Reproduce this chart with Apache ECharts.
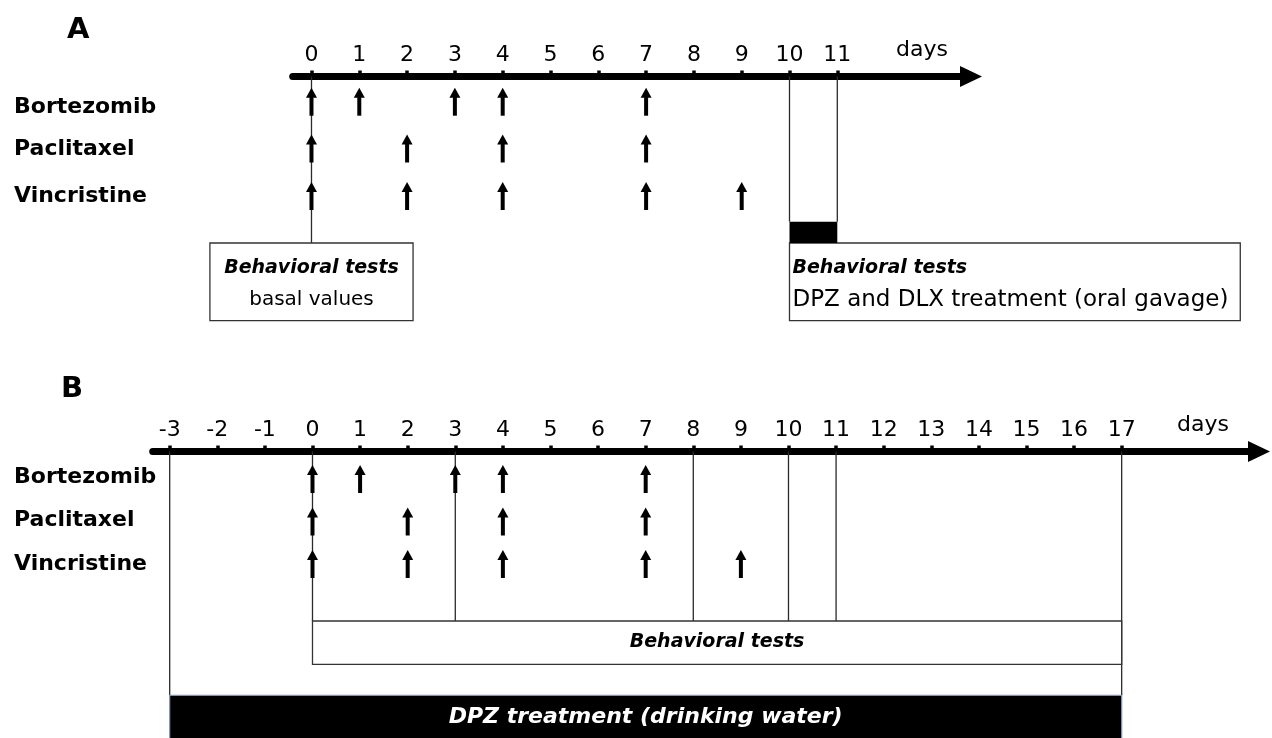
<!DOCTYPE html>
<html>
<head>
<meta charset="utf-8">
<script src="https://cdn.jsdelivr.net/npm/echarts@6/dist/echarts.min.js"></script>
<style>html,body{margin:0;padding:0;background:#fff}#c{width:1272px;height:738px}</style>
</head>
<body>
<div id="c"></div>
<script>
// ---------------- data ----------------
const drugs = ['Bortezomib', 'Paclitaxel', 'Vincristine'];
const axisName = 'days';
// Panel A: injection days per drug
const bortezomibDaysA = [0, 1, 3, 4, 7];
const paclitaxelDaysA = [0, 2, 4, 7];
const vincristineDaysA = [0, 2, 4, 7, 9];
const tickLabelsA = [0, 1, 2, 3, 4, 5, 6, 7, 8, 9, 10, 11];
const basalTestDayA = 0;
const treatmentWindowA = [10, 11];
// Panel B
const bortezomibDaysB = [0, 1, 3, 4, 7];
const paclitaxelDaysB = [0, 2, 4, 7];
const vincristineDaysB = [0, 2, 4, 7, 9];
const tickLabelsB = [-3, -2, -1, 0, 1, 2, 3, 4, 5, 6, 7, 8, 9, 10, 11, 12, 13, 14, 15, 16, 17];
const testDaysB = [0, 3, 8, 10, 11];
const testPeriodB = [0, 17];
const dpzPeriodB = [-3, 17];

// ---------------- layout (pixels below each time axis) ----------------
const FONT = '"DejaVu Sans"';
const LA = { top: 76.5, height: 250, left: 292.7, width: 678.3, xMin: -0.393, xMax: 13.797,
  arrowY: [25.2, 72, 119.5], labelY: [30.5, 72.5, 119.5], nameDx: -49, nameDy: -26.5,
  barTop: 145.2, boxTop: 166.5, boxBottom: 244.2, line1: 191.5, line2: 223.5,
  basalHalfSpan: 2.125, treatSpan: 9.43 };
const LB = { top: 451.5, height: 286.5, left: 152.7, width: 1106.3, xMin: -3.357, xMax: 19.885,
  arrowY: [27.5, 70, 112.5], labelY: [26, 68.5, 112.5], nameDx: -56, nameDy: -26.5,
  boxTop: 169.5, boxBottom: 212.8, boxText: 190.5, dpzTop: 243.8, dpzBottom: 300, dpzText: 265.5 };

function drugPoints(lists) {
  const out = [];
  lists.forEach((days, row) => days.forEach(d => out.push([d, row])));
  return out;
}

function arrowRender(L) {
  return function (params, api) {
    const p = api.coord([api.value(0), L.arrowY[api.value(1)]]);
    const len = 28, hh = 10, hw = 11, sw = 4;
    const top = p[1] - len / 2;
    return { type: 'group', children: [
      { type: 'rect', shape: { x: p[0] - sw / 2, y: top + hh - 1, width: sw, height: len - hh + 1 }, style: { fill: '#000' } },
      { type: 'polygon', shape: { points: [[p[0] - hw / 2, top + hh], [p[0], top], [p[0] + hw / 2, top + hh]] }, style: { fill: '#000' } }
    ] };
  };
}

function labelRender(L) {
  return function (params, api) {
    const p = api.coord([L.xMin, L.labelY[api.value(0)]]);
    return { type: 'text', x: 14, y: p[1],
      style: { text: drugs[api.value(0)], fill: '#000', font: 'bold 22px ' + FONT,
        textAlign: 'left', textVerticalAlign: 'middle', align: 'left', verticalAlign: 'middle' } };
  };
}

function nameRender(L) {
  return function (params, api) {
    const p = api.coord([api.value(0), 0]);
    return txt(p[0] + L.nameDx, p[1] + L.nameDy, axisName, '22px ' + FONT, 'center');
  };
}

function lineRender(params, api) {
  const a = api.coord([api.value(0), 0]);
  const b = api.coord([api.value(0), api.value(1)]);
  return { type: 'line', shape: { x1: a[0], y1: a[1], x2: b[0], y2: b[1] },
    style: { stroke: '#2a2a2a', lineWidth: 1.3 } };
}

function txt(x, y, text, font, align, color) {
  return { type: 'text', x: x, y: y,
    style: { text: text, fill: color || '#000', font: font, textAlign: align, textVerticalAlign: 'middle', align: align, verticalAlign: 'middle' } };
}

function boxRenderA(params, api) {
  const k = api.value(2);
  const p0 = api.coord([api.value(0), LA.boxTop]);
  const p1 = api.coord([api.value(1), LA.boxBottom]);
  const children = [];
  if (k === 0) {
    children.push({ type: 'rect', shape: { x: p0[0], y: p0[1], width: p1[0] - p0[0], height: p1[1] - p0[1] },
      style: { fill: '#fff', stroke: '#333', lineWidth: 1.3 } });
    const cx = (p0[0] + p1[0]) / 2;
    children.push(txt(cx, api.coord([0, LA.line1])[1], 'Behavioral tests', 'italic bold 19px ' + FONT, 'center'));
    children.push(txt(cx, api.coord([0, LA.line2])[1], 'basal values', '20px ' + FONT, 'center'));
  } else if (k === 1) {
    children.push({ type: 'rect', shape: { x: p0[0], y: p0[1], width: p1[0] - p0[0], height: p1[1] - p0[1] },
      style: { fill: '#fff', stroke: '#333', lineWidth: 1.3 } });
    children.push(txt(p0[0] + 3, api.coord([0, LA.line1])[1], 'Behavioral tests', 'italic bold 19px ' + FONT, 'left'));
    children.push(txt(p0[0] + 3, api.coord([0, LA.line2])[1], 'DPZ and DLX treatment (oral gavage)', '23px ' + FONT, 'left'));
  } else {
    const q0 = api.coord([api.value(0), LA.barTop]);
    const q1 = api.coord([api.value(1), LA.boxTop]);
    children.push({ type: 'rect', shape: { x: q0[0], y: q0[1], width: q1[0] - q0[0], height: q1[1] - q0[1] },
      style: { fill: '#000' } });
  }
  return { type: 'group', children: children };
}

function boxRenderB(params, api) {
  const k = api.value(2);
  if (k === 0) {
    const p0 = api.coord([api.value(0), LB.boxTop]);
    const p1 = api.coord([api.value(1), LB.boxBottom]);
    return { type: 'group', children: [
      { type: 'rect', shape: { x: p0[0], y: p0[1], width: p1[0] - p0[0], height: p1[1] - p0[1] },
        style: { fill: '#fff', stroke: '#333', lineWidth: 1.3 } },
      txt((p0[0] + p1[0]) / 2, api.coord([0, LB.boxText])[1], 'Behavioral tests', 'italic bold 19px ' + FONT, 'center')
    ] };
  }
  const p0 = api.coord([api.value(0), LB.dpzTop]);
  const p1 = api.coord([api.value(1), LB.dpzBottom]);
  return { type: 'group', children: [
    { type: 'rect', shape: { x: p0[0], y: p0[1], width: p1[0] - p0[0], height: p1[1] - p0[1] },
      style: { fill: '#000', stroke: '#7f95b3', lineWidth: 1.2 } },
    txt((p0[0] + p1[0]) / 2, api.coord([0, LB.dpzText])[1], 'DPZ treatment (drinking water)', 'italic bold 22px ' + FONT, 'center', '#fff')
  ] };
}

function timeAxis(gridIndex, L, ticks) {
  return {
    type: 'value', gridIndex: gridIndex, position: 'top', min: L.xMin, max: L.xMax,
    splitLine: { show: false },
    axisLine: { show: true, symbol: ['none', 'triangle'], symbolSize: [21, 22], lineStyle: { color: '#000', width: 7 } },
    axisTick: { show: true, customValues: ticks, length: 6, lineStyle: { color: '#000', width: 3.5 } },
    axisLabel: { show: true, customValues: ticks, fontSize: 22, fontFamily: FONT, color: '#000', margin: 10, hideOverlap: false }
  };
}

const chart = echarts.init(document.getElementById('c'), null, { renderer: 'canvas' });
chart.setOption({
  animation: false,
  backgroundColor: '#fff',
  title: [
    { text: 'A', left: 67, top: 16, padding: 0, textStyle: { fontSize: 29, fontWeight: 'bold', fontFamily: FONT, color: '#000' } },
    { text: 'B', left: 61, top: 375, padding: 0, textStyle: { fontSize: 29, fontWeight: 'bold', fontFamily: FONT, color: '#000' } }
  ],
  grid: [
    { left: LA.left, top: LA.top, width: LA.width, height: LA.height, containLabel: false, outerBoundsMode: 'none' },
    { left: LB.left, top: LB.top, width: LB.width, height: LB.height, containLabel: false, outerBoundsMode: 'none' }
  ],
  xAxis: [timeAxis(0, LA, tickLabelsA), timeAxis(1, LB, tickLabelsB)],
  yAxis: [
    { type: 'value', gridIndex: 0, min: 0, max: LA.height, inverse: true, show: false },
    { type: 'value', gridIndex: 1, min: 0, max: LB.height, inverse: true, show: false }
  ],
  series: [
    // ---- Panel A ----
    { type: 'custom', name: 'axisNameA', xAxisIndex: 0, yAxisIndex: 0, renderItem: nameRender(LA), data: [[LA.xMax]] },
    { type: 'custom', name: 'guidesA', xAxisIndex: 0, yAxisIndex: 0, renderItem: lineRender,
      data: [[basalTestDayA, LA.boxTop], [treatmentWindowA[0], LA.barTop], [treatmentWindowA[1], LA.barTop]] },
    { type: 'custom', name: 'injectionsA', xAxisIndex: 0, yAxisIndex: 0, renderItem: arrowRender(LA),
      data: drugPoints([bortezomibDaysA, paclitaxelDaysA, vincristineDaysA]) },
    { type: 'custom', name: 'drugsA', xAxisIndex: 0, yAxisIndex: 0, renderItem: labelRender(LA),
      data: drugs.map((d, i) => [i]) },
    { type: 'custom', name: 'boxesA', xAxisIndex: 0, yAxisIndex: 0, renderItem: boxRenderA,
      data: [
        [basalTestDayA - LA.basalHalfSpan, basalTestDayA + LA.basalHalfSpan, 0],
        [treatmentWindowA[0], treatmentWindowA[0] + LA.treatSpan, 1],
        [treatmentWindowA[0], treatmentWindowA[1], 2]
      ] },
    // ---- Panel B ----
    { type: 'custom', name: 'axisNameB', xAxisIndex: 1, yAxisIndex: 1, renderItem: nameRender(LB), data: [[LB.xMax]] },
    { type: 'custom', name: 'guidesB', xAxisIndex: 1, yAxisIndex: 1, renderItem: lineRender,
      data: [[dpzPeriodB[0], LB.dpzTop]].concat(testDaysB.map(d => [d, LB.boxTop])).concat([[dpzPeriodB[1], LB.dpzTop]]) },
    { type: 'custom', name: 'injectionsB', xAxisIndex: 1, yAxisIndex: 1, renderItem: arrowRender(LB),
      data: drugPoints([bortezomibDaysB, paclitaxelDaysB, vincristineDaysB]) },
    { type: 'custom', name: 'drugsB', xAxisIndex: 1, yAxisIndex: 1, renderItem: labelRender(LB),
      data: drugs.map((d, i) => [i]) },
    { type: 'custom', name: 'boxesB', xAxisIndex: 1, yAxisIndex: 1, renderItem: boxRenderB,
      data: [[testPeriodB[0], testPeriodB[1], 0], [dpzPeriodB[0], dpzPeriodB[1], 1]] }
  ]
});
</script>
</body>
</html>
